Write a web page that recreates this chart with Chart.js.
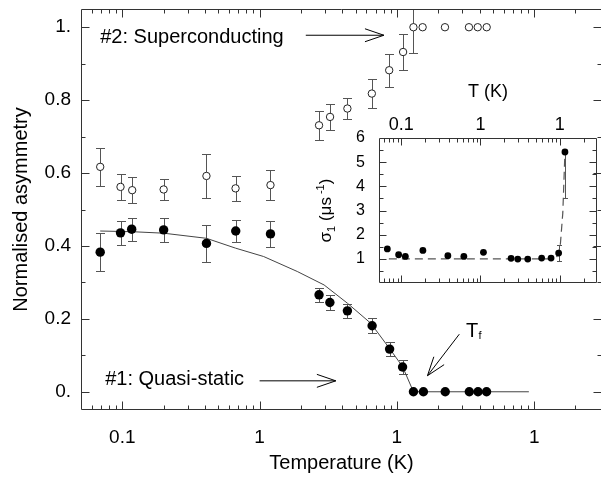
<!DOCTYPE html>
<html>
<head>
<meta charset="utf-8">
<script src="https://cdn.jsdelivr.net/npm/chart.js@4.4.1/dist/chart.umd.min.js"></script>
<style>
  html, body { margin: 0; padding: 0; background: #fff; overflow: hidden; }
  #wrap { position: relative; width: 601px; height: 480px; overflow: hidden; }
  #main { position: absolute; left: 0; top: 0; }
  #inset { position: absolute; left: 300px; top: 70px; }
</style>
</head>
<body>
<div id="wrap">
  <canvas id="main" width="607" height="480"></canvas>
  <canvas id="inset" width="301" height="230"></canvas>
</div>
<script>
// sample #2, superconducting (open circles)
const tempSC = [0.069, 0.097, 0.118, 0.2, 0.41, 0.668, 1.2, 2.71, 3.26, 4.36, 6.57, 8.79, 11.1, 13.2, 15.4, 22.4, 33.5, 38.8, 45.1]
const asymSC = [0.617, 0.562, 0.553, 0.555, 0.592, 0.558, 0.567, 0.731, 0.754, 0.777, 0.818, 0.882, 0.932, 1.0, 1.0, 1.0, 1.0, 1.0, 1.0]
const errSC = [0.052, 0.035, 0.035, 0.03, 0.06, 0.035, 0.04, 0.04, 0.035, 0.03, 0.04, 0.045, 0.05, 0.07, 0, 0, 0, 0, 0]

// sample #1, quasi-static (filled circles)
const tempQS = [0.069, 0.097, 0.117, 0.2, 0.41, 0.67, 1.2, 2.71, 3.25, 4.36, 6.6, 8.85, 11.0, 13.2, 15.6, 22.5, 33.7, 39.0, 45.0]
const asymQS = [0.383, 0.436, 0.446, 0.444, 0.407, 0.441, 0.433, 0.266, 0.245, 0.222, 0.181, 0.117, 0.068, 0, 0, 0, 0, 0, 0]
const errQS = [0.052, 0.033, 0.032, 0.032, 0.05, 0.03, 0.036, 0.02, 0.02, 0.02, 0.02, 0.02, 0.018, 0, 0, 0, 0, 0, 0]

// fit through sample #1
const fitTemp = [0.069, 0.12, 0.2, 0.41, 0.668, 1.07, 1.88, 2.95, 4.36, 6.45, 8.79, 11.0, 13.2, 91.5]
const fitAsym = [0.441, 0.439, 0.435, 0.421, 0.394, 0.371, 0.33, 0.293, 0.243, 0.188, 0.12, 0.069, 0, 0]

// inset: relaxation rate sigma_1
const sigTemp = [0.067, 0.093, 0.113, 0.188, 0.388, 0.617, 1.09, 2.43, 2.95, 3.94, 5.9, 7.75, 9.66, 11.6]
const sigRate = [1.41, 1.17, 1.10, 1.35, 1.13, 1.10, 1.27, 1.02, 0.99, 0.99, 1.03, 1.03, 1.24, 5.42]
const sigErrLo = [0, 0, 0, 0, 0, 0, 0, 0, 0, 0, 0, 0, 0.32, 1.9]
const sigErrHi = [0, 0, 0, 0, 0, 0, 0, 0, 0, 0, 0, 0, 0.32, 0]
const sigLineTemp = [0.07, 8.96, 10.1, 10.9, 11.6]
const sigLineRate = [1, 1, 1.5, 2.9, 5.42]

// tick labels
const mainXMajor = [0.1, 1, 10, 100]
const mainXLabels = ['0.1', '1', '1', '1']
const mainYMajor = [0, 0.2, 0.4, 0.6, 0.8, 1]
const mainYLabels = ['0.', '0.2', '0.4', '0.6', '0.8', '1.']
const mainYMinor = [0.1, 0.3, 0.5, 0.7, 0.9]
const insetXMajor = [0.1, 1, 10]
const insetXLabels = ['0.1', '1', '1']
const insetYMajor = [1, 2, 3, 4, 5, 6]
const insetYLabels = ['1', '2', '3', '4', '5', '6']
const insetYMinor = [0.5, 1.5, 2.5, 3.5, 4.5, 5.5]

const FONT = "'Liberation Sans', Arial, Helvetica, sans-serif"
Chart.defaults.font.family = FONT
Chart.defaults.color = '#000'

const mainXMin = 0.05, mainXMax = 312
const insetXMin = 0.0526, insetXMax = 29.4

function points(xs, ys) {
    return xs.map((x, i) => ({ x: x, y: ys[i] }))
}

// 2..9 steps of every decade between lo and hi
function logMinors(lo, hi) {
    const out = []
    for (let d = Math.floor(Math.log10(lo)); d <= Math.ceil(Math.log10(hi)); d++) {
        for (let k = 2; k <= 9; k++) {
            const v = k * Math.pow(10, d)
            if (v > lo && v < hi) out.push(v)
        }
    }
    return out
}

function tickSet(major, minor, majorLen, minorLen) {
    return major.map(v => [v, majorLen]).concat(minor.map(v => [v, minorLen]))
}

function arrow(ctx, x0, y0, x1, y1) {
    const a = Math.atan2(y1 - y0, x1 - x0), len = 20, spread = 0.33
    ctx.beginPath()
    ctx.moveTo(x0, y0)
    ctx.lineTo(x1, y1)
    ctx.moveTo(x1 - len * Math.cos(a - spread), y1 - len * Math.sin(a - spread))
    ctx.lineTo(x1, y1)
    ctx.lineTo(x1 - len * Math.cos(a + spread), y1 - len * Math.sin(a + spread))
    ctx.stroke()
}

// box round the plot area with inward ticks on all sides
function drawFrame(chart, t) {
    const ctx = chart.ctx, a = chart.chartArea
    const x = chart.scales.x, y = chart.scales.y
    const L = Math.round(a.left) + 0.5, R = Math.round(a.right) - 0.5
    const T = Math.round(a.top) + 0.5, B = Math.round(a.bottom) - 0.5
    ctx.save()
    ctx.strokeStyle = '#333'
    ctx.lineWidth = 1
    ctx.beginPath()
    ctx.moveTo(R, T); ctx.lineTo(L, T); ctx.lineTo(L, B); ctx.lineTo(R, B)
    if (t.rightLine) { ctx.moveTo(R, T); ctx.lineTo(R, B) }
    t.xTicks.forEach(([v, len]) => {
        const p = Math.round(x.getPixelForValue(v)) + 0.5
        if (p <= L + 1 || p >= R - 1) return
        ctx.moveTo(p, B); ctx.lineTo(p, B - len)
        ctx.moveTo(p, T); ctx.lineTo(p, T + len)
    })
    t.yTicks.forEach(([v, len]) => {
        const p = Math.round(y.getPixelForValue(v)) + 0.5
        if (p <= T + 1 || p >= B - 1) return
        ctx.moveTo(L, p); ctx.lineTo(L + len, p)
        ctx.moveTo(R, p); ctx.lineTo(R - len, p)
    })
    ctx.stroke()
    ctx.restore()
}

const mainFrame = {
    xTicks: tickSet(mainXMajor, logMinors(mainXMin, mainXMax), 8, 4),
    yTicks: tickSet(mainYMajor, mainYMinor, 8, 4),
    rightLine: false
}
const insetFrame = {
    xTicks: tickSet(insetXMajor, logMinors(insetXMin, insetXMax), 7, 4),
    yTicks: tickSet(insetYMajor, insetYMinor, 7, 4),
    rightLine: true
}

const errorBars = {
    id: 'errorBars',
    beforeDatasetsDraw(chart) {
        const { ctx, chartArea: a, scales: { x, y } } = chart
        ctx.save()
        ctx.beginPath()
        ctx.rect(a.left, a.top, a.right - a.left, a.bottom - a.top)
        ctx.clip()
        chart.data.datasets.forEach(ds => {
            if (!ds.errLo) return
            ctx.strokeStyle = '#555'
            ctx.lineWidth = 1
            ds.data.forEach((p, i) => {
                const lo = ds.errLo[i], hi = ds.errHi[i]
                if (!lo && !hi) return
                const cx = Math.round(x.getPixelForValue(p.x)) + 0.5
                const y0 = Math.round(y.getPixelForValue(p.y - lo)) + 0.5
                const y1 = Math.round(y.getPixelForValue(p.y + hi)) + 0.5
                ctx.beginPath()
                ctx.moveTo(cx, y0); ctx.lineTo(cx, y1)
                if (lo) { ctx.moveTo(cx - ds.cap, y0); ctx.lineTo(cx + ds.cap, y0) }
                if (hi) { ctx.moveTo(cx - ds.cap, y1); ctx.lineTo(cx + ds.cap, y1) }
                ctx.stroke()
            })
        })
        ctx.restore()
    }
}

// frame, labels and arrows of the main panel
const mainNotes = {
    id: 'mainNotes',
    afterDatasetsDraw(chart) {
        drawFrame(chart, mainFrame)
        const { ctx, scales: { x, y } } = chart
        const px = v => x.getPixelForValue(v), py = v => y.getPixelForValue(v)
        ctx.save()
        ctx.fillStyle = '#000'
        ctx.strokeStyle = '#000'
        ctx.lineWidth = 1
        ctx.font = '20px ' + FONT
        ctx.textBaseline = 'middle'
        ctx.fillText('#2: Superconducting', px(0.069), py(0.972))
        ctx.fillText('#1: Quasi-static', px(0.075), py(0.033))
        arrow(ctx, px(2.17), py(0.978), px(8.04), py(0.978))
        arrow(ctx, px(1.0), py(0.030), px(3.59), py(0.030))
        arrow(ctx, px(28.5), py(0.158), px(16.7), py(0.044))
        ctx.textBaseline = 'alphabetic'
        ctx.fillText('T', px(31.9), py(0.151))
        ctx.font = '11px ' + FONT
        ctx.fillText('f', px(31.9) + 12.5, py(0.151) + 2)
        ctx.restore()
    }
}

// inset frame and its rotated y title with sub- and superscript
const insetNotes = {
    id: 'insetNotes',
    afterDatasetsDraw(chart) {
        drawFrame(chart, insetFrame)
        const { ctx, chartArea: a } = chart
        const parts = [['σ', 17, 0], ['1', 11, 4], [' (μs', 17, 0], [' -1', 11, -7], [')', 17, 0]]
        ctx.save()
        ctx.fillStyle = '#000'
        let total = 0
        parts.forEach(([s, size]) => { ctx.font = size + 'px ' + FONT; total += ctx.measureText(s).width })
        ctx.translate(a.left - 48, (a.top + a.bottom) / 2)
        ctx.rotate(-Math.PI / 2)
        let pos = -total / 2
        parts.forEach(([s, size, dy]) => {
            ctx.font = size + 'px ' + FONT
            ctx.fillText(s, pos, dy)
            pos += ctx.measureText(s).width
        })
        ctx.restore()
    }
}

new Chart(document.getElementById('main'), {
    type: 'scatter',
    data: {
        datasets: [{
            label: 'fit',
            data: points(fitTemp, fitAsym),
            showLine: true,
            borderColor: '#444',
            borderWidth: 1,
            pointRadius: 0,
            tension: 0,
            order: 3
        }, {
            label: '#1: Quasi-static',
            data: points(tempQS, asymQS),
            pointRadius: 4.7,
            pointBackgroundColor: '#000',
            pointBorderColor: '#000',
            pointBorderWidth: 0,
            errLo: errQS, errHi: errQS, cap: 4.5,
            order: 2
        }, {
            label: '#2: Superconducting',
            data: points(tempSC, asymSC),
            pointRadius: 3.7,
            pointBackgroundColor: '#fff',
            pointBorderColor: '#222',
            pointBorderWidth: 1,
            errLo: errSC, errHi: errSC, cap: 4.5,
            order: 1
        }]
    },
    options: {
        responsive: false,
        animation: false,
        devicePixelRatio: 1,
        layout: { padding: { top: 9, right: 0, bottom: 0, left: 0 } },
        plugins: { legend: { display: false }, tooltip: { enabled: false } },
        scales: {
            x: {
                type: 'logarithmic',
                min: mainXMin,
                max: mainXMax,
                grid: { display: false, drawTicks: false },
                border: { display: false },
                afterBuildTicks: s => { s.ticks = mainXMajor.map(v => ({ value: v })) },
                afterFit: s => { s.height = 70; s.paddingLeft = 0; s.paddingRight = 0 },
                ticks: {
                    autoSkip: false, maxRotation: 0, padding: 16,
                    font: { size: 19 },
                    callback: (v, i) => mainXLabels[i]
                },
                title: { display: true, text: 'Temperature (K)', font: { size: 20 }, padding: { top: 0, bottom: 5 } }
            },
            y: {
                min: -0.05,
                max: 1.05,
                grid: { display: false, drawTicks: false },
                border: { display: false },
                afterBuildTicks: s => { s.ticks = mainYMajor.map(v => ({ value: v })) },
                afterFit: s => { s.width = 81; s.paddingTop = 0; s.paddingBottom = 0 },
                ticks: {
                    autoSkip: false, padding: 10,
                    font: { size: 19 },
                    callback: (v, i) => mainYLabels[i]
                },
                title: { display: true, text: 'Normalised asymmetry', font: { size: 20 }, padding: { top: 9, bottom: 0 } }
            }
        }
    },
    plugins: [errorBars, mainNotes]
})

new Chart(document.getElementById('inset'), {
    type: 'scatter',
    data: {
        datasets: [{
            label: 'sigma fit',
            data: points(sigLineTemp, sigLineRate),
            showLine: true,
            borderColor: '#555',
            borderWidth: 1.2,
            borderDash: [8, 5],
            pointRadius: 0,
            tension: 0,
            order: 2
        }, {
            label: 'sigma_1',
            data: points(sigTemp, sigRate),
            pointRadius: 3.4,
            pointBackgroundColor: '#000',
            pointBorderColor: '#000',
            pointBorderWidth: 0,
            errLo: sigErrLo, errHi: sigErrHi, cap: 2.5,
            order: 1
        }]
    },
    options: {
        responsive: false,
        animation: false,
        devicePixelRatio: 1,
        layout: { padding: { top: 0, right: 3, bottom: 17, left: 0 } },
        plugins: { legend: { display: false }, tooltip: { enabled: false } },
        scales: {
            x: {
                type: 'logarithmic',
                position: 'top',
                min: insetXMin,
                max: insetXMax,
                grid: { display: false, drawTicks: false },
                border: { display: false },
                afterBuildTicks: s => { s.ticks = insetXMajor.map(v => ({ value: v })) },
                afterFit: s => { s.height = 68; s.paddingLeft = 0; s.paddingRight = 0 },
                ticks: {
                    autoSkip: false, maxRotation: 0, padding: 2,
                    font: { size: 18 },
                    callback: (v, i) => insetXLabels[i]
                },
                title: { display: true, text: 'T (K)', font: { size: 18 }, padding: { top: 11, bottom: 0 } }
            },
            y: {
                min: 0,
                max: 6,
                grid: { display: false, drawTicks: false },
                border: { display: false },
                afterBuildTicks: s => { s.ticks = insetYMajor.map(v => ({ value: v })) },
                afterFit: s => { s.width = 79; s.paddingTop = 0; s.paddingBottom = 0 },
                ticks: {
                    autoSkip: false, padding: 14,
                    font: { size: 16 },
                    callback: (v, i) => insetYLabels[i]
                }
            }
        }
    },
    plugins: [errorBars, insetNotes]
})
</script>
</body>
</html>
